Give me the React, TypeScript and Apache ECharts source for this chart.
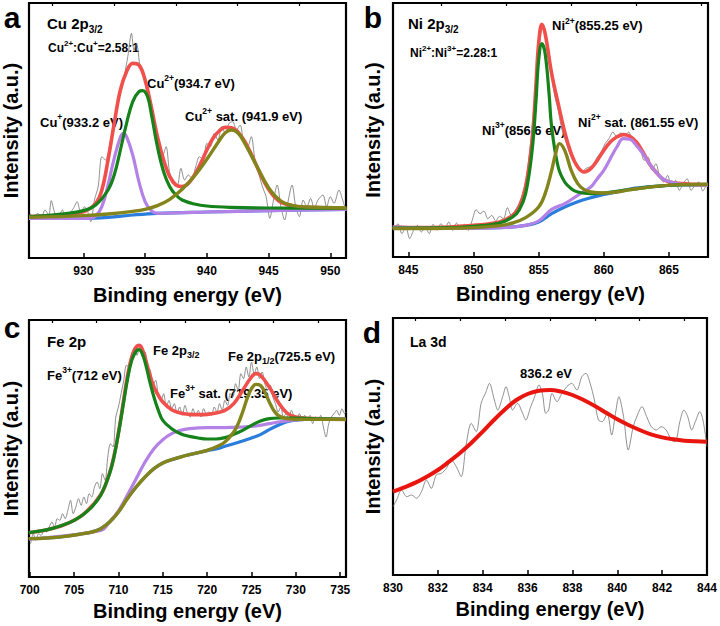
import React, { useEffect, useRef } from "react";
import * as echarts from "echarts";

const FONT = '"Liberation Sans", Arial, Helvetica, sans-serif';

// ---------- Panel a : Cu 2p3/2 ----------
const cuTicks = [930, 935, 940, 945, 950];
const cuMinor = [927.5, 932.5, 937.5, 942.5, 947.5];
const cuRaw = [[925.7,13.4],[926.0,11.9],[926.3,13.4],[926.6,12.4],[926.9,14.4],[927.2,12.9],[927.4,17.2],[927.7,13.4],[928.0,12.6],[928.3,14.4],[928.6,11.9],[928.9,13.4],[929.2,14.9],[929.5,16.9],[929.8,13.4],[930.1,15.4],[930.4,13.4],[930.6,10.9],[930.9,17.4],[931.2,21.4],[931.5,30.4],[931.8,29.4],[932.1,33.4],[932.4,39.4],[932.7,44.4],[933.0,50.4],[933.3,54.4],[933.6,60.4],[933.9,67.4],[934.1,62.4],[934.3,64.4],[934.6,57.4],[934.9,54.4],[935.2,48.4],[935.5,44.4],[935.8,39.4],[936.1,34.4],[936.4,30.4],[936.7,33.4],[937.0,25.4],[937.3,23.4],[937.6,21.4],[937.9,26.9],[938.2,23.4],[938.5,24.9],[938.8,23.9],[939.1,27.4],[939.4,30.4],[939.7,29.4],[940.0,34.4],[940.3,33.4],[940.6,37.4],[940.9,35.4],[941.2,39.4],[941.5,37.4],[941.8,40.4],[942.1,40.9],[942.4,38.4],[942.7,39.9],[943.0,34.4],[943.3,33.4],[943.6,36.4],[943.9,29.4],[944.2,25.4],[944.5,21.4],[944.8,18.4],[945.1,11.9],[945.4,17.4],[945.7,21.9],[946.0,15.4],[946.3,11.4],[946.6,17.4],[946.9,21.9],[947.2,15.4],[947.5,12.4],[947.8,17.4],[948.1,15.4],[948.4,17.9],[948.7,14.9],[949.0,17.4],[949.4,18.9],[949.7,15.4],[950.0,18.4],[950.3,16.4],[950.7,20.4],[951.0,17.4],[951.2,14.9]];
const cuEnvelope = [[925.6,12.4],[928,12.9],[930,13.9],[931,16.4],[931.5,20.4],[932,29.4],[932.5,40.4],[933,50.4],[933.5,55.9],[934,58.4],[934.5,57.9],[935,53.4],[935.5,45.4],[936,36.4],[936.5,29.4],[937,24.4],[937.5,21.9],[938,21.4],[938.5,22.4],[939,24.9],[939.5,28.4],[940,32.4],[940.5,35.9],[941,38.1],[941.5,39.2],[942,39.1],[942.5,37.9],[943,35.4],[943.5,31.9],[944,27.9],[944.5,23.9],[945,20.6],[945.5,18.2],[946,16.7],[947,15.6],[948,15.2],[950,15.0],[951.3,14.9]];
const cuTwoPlus = [[925.6,12.4],[928,13.1],[930,14.2],[931,15.9],[932,20.4],[932.5,24.9],[933,32.4],[933.5,40.4],[934,46.9],[934.5,49.9],[934.8,50.2],[935.2,48.4],[935.5,43.4],[936,33.4],[936.5,25.9],[937,21.4],[937.5,18.9],[938,17.4],[939,16.2],[940,15.6],[942,15.2],[945,15.0],[951.3,14.9]];
const cuOnePlus = [[925.6,11.9],[930.5,11.9],[931,12.6],[931.5,15.4],[932,21.9],[932.5,29.9],[933,36.2],[933.25,37.4],[933.5,36.4],[934,30.9],[934.5,22.9],[935,16.9],[935.5,14.2],[936,13.4],[938,13.6],[940,13.8],[945,14.2],[951.3,14.6]];
const cuSat = [[925.6,12.2],[930,12.7],[932,13.2],[934,14.0],[935,14.6],[936,15.7],[937,17.6],[938,20.6],[939,24.6],[940,29.6],[941,35.2],[941.5,37.6],[942,38.4],[942.5,37.6],[943,34.9],[944,27.9],[945,21.1],[946,17.1],[947,15.7],[948,15.3],[951.3,15.0]];
const cuBackground = [[925.6,11.9],[930,11.9],[932,12.2],[934,12.9],[936,13.4],[940,13.8],[945,14.2],[951.3,14.6]];

// ---------- Panel b : Ni 2p3/2 ----------
const niTicks = [845, 850, 855, 860, 865];
const niMinor = [847.5, 852.5, 857.5, 862.5, 867.5];
const niRaw = [[843.9,8],[844.2,10],[844.5,7],[844.8,9],[845.1,5.5],[845.4,8],[845.7,9.5],[846.0,7.5],[846.3,9],[846.6,7],[846.9,9.8],[847.2,8],[847.5,10],[847.8,8.5],[848.1,10.5],[848.4,8],[848.7,10.2],[849.0,8.5],[849.3,9.8],[849.6,8],[849.9,11],[850.2,14.2],[850.5,13],[850.8,13.8],[851.1,11.5],[851.4,12.5],[851.7,10.8],[852.0,12.2],[852.3,11.5],[852.6,14.8],[852.9,12.5],[853.2,14],[853.5,16],[853.8,19.5],[854.1,25],[854.4,35],[854.7,48],[855.0,62],[855.3,68.5],[855.6,65],[855.9,57],[856.2,49],[856.5,44],[856.8,38],[857.1,34.5],[857.4,31],[857.7,28.5],[858.0,27],[858.3,25.5],[858.6,26.5],[858.9,27],[859.2,27.5],[859.5,30],[859.8,31.5],[860.1,34],[860.4,35.5],[860.7,37.5],[861.0,36],[861.3,37.2],[861.6,36.5],[861.9,37.5],[862.2,35],[862.5,34],[862.8,32.5],[863.1,29],[863.4,30],[863.7,26],[864.0,28],[864.3,24],[864.6,22.5],[864.9,24.5],[865.2,21],[865.5,23],[865.8,20],[866.1,22],[866.4,23.5],[866.7,20],[867.0,21.5],[867.3,22.5],[867.6,19.8],[867.9,22]];
const niEnvelope = [[843.8,9.0],[846,8.8],[848,9.0],[850,9.5],[852,10.5],[853,12.5],[853.5,15.0],[854,21.0],[854.5,35.0],[854.8,52],[855.0,64],[855.25,69.8],[855.5,67],[856,55],[856.5,46],[857,37.5],[857.5,31],[858,27],[858.5,25.5],[859,26.5],[859.5,29],[860,32],[860.5,34.5],[861,36],[861.5,36.7],[862,36.2],[862.5,34.5],[863,31.5],[863.5,28],[864,25.5],[864.5,23.5],[865,22.5],[866,22.0],[867,21.8],[868,21.7]];
const niTwoPlus = [[843.8,8.7],[848,8.8],[850,9.2],[852,10.2],[853,12],[853.5,14],[854,19],[854.5,32],[854.8,47],[855,59],[855.25,64],[855.5,61],[855.8,49],[856,39],[856.5,27],[857,22.5],[857.5,20.5],[858,19.5],[859,19],[860,19.2],[862,20.2],[864,21.2],[866,21.7],[868,21.8]];
const niThreePlus = [[843.8,8.5],[848,8.6],[850,8.8],[852,9.4],[853,10.2],[854,11.8],[855,15],[855.5,19],[856,26],[856.3,31],[856.6,34],[857,32],[857.5,26],[858,22],[858.5,20.2],[859,19.5],[860,19.2],[861,19.5],[862,20.2],[864,21.2],[866,21.7],[868,21.8]];
const niSat = [[843.8,9.0],[848,8.6],[850,8.6],[852,8.8],[853,9.0],[854,9.5],[855,10.8],[856,14.3],[857,16],[858,18.5],[859,21],[859.5,23.5],[860,26],[860.5,29.5],[861,33],[861.5,35.5],[862,35.3],[862.5,33.5],[863,31],[863.5,28],[864,25.5],[864.5,23.5],[865,22.7],[866,21.8],[868,21.6]];
const niBackground = [[843.8,8.6],[852,8.8],[854,9.5],[855,10.5],[856,13],[857,15],[858,16.6],[859,17.8],[860,18.8],[861,19.5],[862,20.4],[864,21.2],[866,21.6],[868,21.7]];

// ---------- Panel c : Fe 2p ----------
const feTicks = [700, 705, 710, 715, 720, 725, 730, 735];
const feMinor = [702.5, 707.5, 712.5, 717.5, 722.5, 727.5, 732.5];
const feRaw = [[700.1,10],[700.4,13],[700.7,11],[701.0,13],[701.3,12.5],[701.6,14],[701.9,13.5],[702.2,15],[702.5,16.5],[702.8,15],[703.1,17.5],[703.4,17],[703.7,19],[704.0,17.5],[704.3,20],[704.6,23],[704.9,19],[705.2,21],[705.5,23.5],[705.8,21.5],[706.1,24],[706.4,22],[706.7,25],[707.0,24],[707.3,27],[707.6,28.5],[707.9,26.5],[708.2,31],[708.5,29],[708.8,36],[709.1,40],[709.4,39],[709.7,48],[710.0,51],[710.3,55],[710.6,59],[710.9,63.5],[711.2,63],[711.5,67],[711.8,69],[712.1,66.5],[712.4,69.5],[712.7,66],[713.0,67.5],[713.3,63],[713.6,62],[713.9,57.5],[714.2,59],[714.5,54.5],[714.8,53],[715.1,55],[715.4,51],[715.7,53],[716.0,50.5],[716.3,52],[716.6,49],[716.9,51],[717.2,48.5],[717.5,51.5],[717.8,49],[718.1,48],[718.4,50.5],[718.7,48.5],[719.0,50],[719.3,48],[719.6,50.5],[719.9,49],[720.2,49.5],[720.5,48.5],[720.8,51],[721.1,49.5],[721.4,52],[721.7,50],[722.0,53],[722.3,51.5],[722.6,55],[722.9,54],[723.2,58],[723.5,56],[723.8,61],[724.1,59.5],[724.4,63],[724.7,60],[725.0,64.5],[725.3,61],[725.6,63],[725.9,59.5],[726.2,61.5],[726.5,58],[726.8,56],[727.1,57.5],[727.4,54],[727.7,52],[728.0,49.5],[728.3,51],[728.6,48],[728.9,49],[729.2,47.5],[729.5,50],[729.8,48],[730.1,46.5],[730.4,49],[730.7,47.5],[731.0,48.5],[731.3,47],[731.6,48.5],[731.9,46],[732.2,48],[732.5,47],[732.8,48.5],[733.1,45],[733.4,42],[733.7,46],[734.0,48],[734.3,49],[734.6,50],[734.9,48.5],[735.2,50.5],[735.5,49],[735.65,49.5]];
const feEnvelope = [[699.9,13.3],[702,14.2],[704,15.8],[706,18.7],[708,24.7],[709,31.2],[709.5,36.3],[710,43.3],[710.5,51.5],[711,60],[711.5,66],[712,69],[712.3,69.5],[712.6,68.8],[713,65.8],[713.5,61],[714,57],[714.5,54.5],[715,52.5],[716,50.2],[717,49.2],[718,48.8],[719,48.7],[720,48.8],[721,49.2],[722,50],[723,52],[724,56],[725,60],[725.5,61],[726,60.5],[727,57],[728,52.5],[729,49.2],[730,48],[732,47.5],[735.65,47.3]];
const feThreePlus = [[699.9,13.3],[702,14.2],[704,15.8],[705,17],[706,18.7],[707,21],[708,24.5],[709,31],[709.5,36],[710,43],[710.5,51],[711,59],[711.5,65],[712,67.8],[712.3,68.2],[712.6,67.5],[713,64.5],[713.5,59],[714,54],[714.5,50],[715,47],[716,44.5],[717,43],[718,42.2],[719,41.7],[720,41.4],[721,41.4],[722,41.8],[723,42.8],[724,44],[725,45.5],[726,46.8],[727,47.5],[728,47.7],[730,47.7],[732,47.5],[735.65,47.3]];
const feTwoP12 = [[699.9,11.5],[702,11.7],[704,12.2],[706,13],[707,13.5],[708,14.5],[709,16.5],[710,19.5],[711,23.5],[712,27],[713,30],[714,32.5],[715,34.2],[716,35.2],[717,36],[718,36.7],[719,37.3],[720,38],[721,39],[722,40.5],[723,43.5],[723.5,46],[724,49.5],[724.5,53.5],[725,56.5],[725.5,57.8],[726,57.5],[726.5,55.5],[727,52.5],[727.5,50],[728,48.5],[729,47.5],[730,47.3],[735.65,47.3]];
const feSat = [[699.9,11.4],[708,14],[709,16.5],[710,19.8],[711,24.5],[712,29.5],[713,34.5],[714,38.5],[715,41.2],[716,43],[717,44],[718,44.5],[720,44.8],[722,44.8],[724,45],[725.5,45.3],[727,46],[728,46.5],[729.5,47],[731,47.3],[735.65,47.3]];
const feBackground = [[699.9,11.5],[702,11.7],[704,12.2],[706,13],[707,13.5],[708,14.5],[709,16.5],[710,19.5],[711,23.5],[712,27],[713,30],[714,32.5],[715,34.2],[716,35.2],[717,36],[718,36.7],[719,37.3],[720,37.9],[721,38.4],[722,39.2],[723,40],[724,40.8],[725,41.7],[726,42.7],[727,44.2],[728,45.5],[729,46.6],[730,47.1],[731,47.3],[735.65,47.3]];

// ---------- Panel d : La 3d ----------
const laTicks = [830, 832, 834, 836, 838, 840, 842, 844];
const laMinor = [831, 833, 835, 837, 839, 841, 843];
const laRaw = [[830.0,20.5],[830.16,22.5],[830.38,25.5],[830.61,23.5],[830.83,24],[831.05,23],[831.27,25],[831.49,28.5],[831.71,26],[831.93,30],[832.16,30.5],[832.38,32],[832.6,34.5],[832.82,32.5],[833.04,29.5],[833.26,39],[833.49,45.5],[833.71,43],[833.93,51.5],[834.15,55],[834.3,57.5],[834.52,52.5],[834.67,49.5],[834.89,53.5],[835.04,56.5],[835.18,53.5],[835.33,49.5],[835.55,51.5],[835.78,48.5],[835.92,46.5],[836.14,50.5],[836.29,53],[836.51,57],[836.66,54.5],[836.81,48.5],[836.94,49.5],[837.09,54.5],[837.31,52],[837.53,54.5],[837.75,56.5],[837.97,57.5],[838.2,55.5],[838.42,59.5],[838.6,60.5],[838.79,57.5],[838.98,52.5],[839.16,46.5],[839.33,46],[839.55,48.5],[839.75,42],[839.92,48.5],[840.07,53.5],[840.28,47.5],[840.49,37.5],[840.71,44.5],[840.9,48],[841.1,50.5],[841.31,47.5],[841.52,44.5],[841.74,43.5],[841.96,44.5],[842.18,43.5],[842.41,40.5],[842.58,40],[842.79,46],[842.97,49.5],[843.14,47.5],[843.32,43.5],[843.48,46],[843.68,49],[843.82,46.5],[844.0,38.5]];
const laFit = [[830,25],[830.5,26.3],[831,27.7],[831.5,29.5],[832,31.5],[832.5,34],[833,36.7],[833.5,39.7],[834,43],[834.5,46.5],[835,49.7],[835.5,52.5],[836,54.3],[836.5,55.3],[837,55.5],[837.5,55],[838,54],[838.5,52.5],[839,50.7],[839.5,48.7],[840,46.7],[840.5,45],[841,43.5],[841.5,42.2],[842,41.3],[842.5,40.7],[843,40.3],[843.5,40.1],[844,40]];

const C_RAW = "#737373";
const C_RED = "#f0504c";
const C_GREEN = "#15821a";
const C_PURPLE = "#b482e6";
const C_OLIVE = "#84841c";
const C_BLUE = "#2a7ddc";
const C_RED_D = "#e8160e";

const RICH: any = {
  t: { fontSize: 15, fontWeight: "bold", fontFamily: FONT, lineHeight: 18, fill: "#000" },
  ts: { fontSize: 10, fontWeight: "bold", fontFamily: FONT, lineHeight: 10, padding: [12, 0, 0, 0], fill: "#000" },
  l: { fontSize: 14, fontWeight: "bold", fontFamily: FONT, lineHeight: 18, fill: "#000" },
  m: { fontSize: 13, fontWeight: "bold", fontFamily: FONT, lineHeight: 16, fill: "#000" },
  p: { fontSize: 8.5, fontWeight: "bold", fontFamily: FONT, lineHeight: 8, padding: [0, 0, 10, 0], fill: "#000" },
  b: { fontSize: 9, fontWeight: "bold", fontFamily: FONT, lineHeight: 9, padding: [8, 0, 0, 0], fill: "#000" },
  r: { fontSize: 12, fontWeight: "bold", fontFamily: FONT, lineHeight: 15, fill: "#000" },
  rp: { fontSize: 8, fontWeight: "bold", fontFamily: FONT, lineHeight: 8, padding: [0, 0, 9, 0], fill: "#000" },
};

function txt(x: number, y: number, text: string) {
  return {
    type: "text",
    x,
    y,
    silent: true,
    style: {
      text,
      rich: RICH,
      fontFamily: FONT,
      fontWeight: "bold",
      fontSize: 13,
      fill: "#000",
      textAlign: "left",
      align: "left",
      textVerticalAlign: "middle",
      verticalAlign: "middle",
    },
  };
}

function letter(x: number, y: number, text: string) {
  return {
    type: "text",
    x,
    y,
    silent: true,
    style: {
      text,
      fontFamily: FONT,
      fontWeight: "bold",
      fontSize: 30,
      fill: "#000",
      textAlign: "center",
      align: "center",
      textVerticalAlign: "middle",
      verticalAlign: "middle",
    },
  };
}

function xAxes(grid: number, min: number, max: number, ticks: number[], minor: number[], gap: number) {
  return [
    {
      type: "value",
      gridIndex: grid,
      min,
      max,
      name: "Binding energy (eV)",
      nameLocation: "middle",
      nameGap: gap,
      nameTextStyle: { fontFamily: FONT, fontWeight: "bold", fontSize: 20, color: "#000" },
      axisLine: { show: false },
      splitLine: { show: false },
      axisTick: { show: true, inside: true, length: 5, customValues: ticks, lineStyle: { color: "#000", width: 1.5 } },
      axisLabel: { show: true, customValues: ticks, margin: 7, fontFamily: FONT, fontWeight: "bold", fontSize: 12, color: "#000", showMinLabel: true, showMaxLabel: true },
    },
    {
      type: "value",
      gridIndex: grid,
      min,
      max,
      axisLine: { show: false },
      splitLine: { show: false },
      axisTick: { show: true, inside: true, length: 3, customValues: minor, lineStyle: { color: "#000", width: 1.2 } },
      axisLabel: { show: false },
    },
  ];
}

function yAxis(grid: number, max: number, gap: number) {
  return {
    type: "value",
    gridIndex: grid,
    min: 0,
    max,
    name: "Intensity (a.u.)",
    nameLocation: "middle",
    nameGap: gap,
    nameTextStyle: { fontFamily: FONT, fontWeight: "bold", fontSize: 20, color: "#000" },
    axisLine: { show: false },
    axisTick: { show: false },
    axisLabel: { show: false },
    splitLine: { show: false },
  };
}

function line(data: number[][], panel: number, color: string, width: number, z: number, smooth: number) {
  return {
    type: "line",
    xAxisIndex: panel * 2,
    yAxisIndex: panel,
    data,
    symbol: "none",
    showSymbol: false,
    smooth,
    silent: true,
    z,
    lineStyle: { color, width },
  };
}

export default function App() {
  const ref = useRef<HTMLDivElement>(null);
  useEffect(() => {
    document.body.style.margin = "0";
    if (!ref.current) return;
    const chart = echarts.init(ref.current, null, { renderer: "svg" });
    const gridStyle = { show: true, borderColor: "#000", borderWidth: 2.2, backgroundColor: "transparent" };
    const option: any = {
      animation: false,
      grid: [
        { left: 29, top: 3, width: 317, height: 255, ...gridStyle },
        { left: 393, top: 3, width: 315, height: 254, ...gridStyle },
        { left: 29, top: 320, width: 317, height: 257, ...gridStyle },
        { left: 393, top: 318, width: 316, height: 257, ...gridStyle },
      ],
      xAxis: [
        ...xAxes(0, 925.6, 951.27, cuTicks, cuMinor, 27),
        ...xAxes(1, 843.82, 868.0, niTicks, niMinor, 27),
        ...xAxes(2, 699.92, 735.65, feTicks, feMinor, 24),
        ...xAxes(3, 830, 844, laTicks, laMinor, 24),
      ],
      yAxis: [yAxis(0, 76.5, 8), yAxis(1, 76.2, 10), yAxis(2, 77.1, 8), yAxis(3, 77.1, 10)],
      series: [
        line(cuRaw, 0, C_RAW, 0.8, 1, 0.3),
        line(cuBackground, 0, C_BLUE, 3.2, 2, 0.4),
        line(cuEnvelope, 0, C_RED, 3.6, 3, 0.4),
        line(cuOnePlus, 0, C_PURPLE, 3.2, 4, 0.4),
        line(cuTwoPlus, 0, C_GREEN, 3.2, 5, 0.4),
        line(cuSat, 0, C_OLIVE, 3.4, 6, 0.4),

        line(niRaw, 1, C_RAW, 0.8, 1, 0.3),
        line(niBackground, 1, C_BLUE, 3.2, 2, 0.4),
        line(niEnvelope, 1, C_RED, 3.6, 3, 0.4),
        line(niSat, 1, C_PURPLE, 3.2, 4, 0.4),
        line(niTwoPlus, 1, C_GREEN, 3.2, 5, 0.4),
        line(niThreePlus, 1, C_OLIVE, 3.4, 6, 0.4),

        line(feRaw, 2, C_RAW, 0.8, 1, 0.3),
        line(feBackground, 2, C_BLUE, 3.2, 2, 0.4),
        line(feEnvelope, 2, C_RED, 3.6, 3, 0.4),
        line(feSat, 2, C_PURPLE, 3.2, 4, 0.4),
        line(feThreePlus, 2, C_GREEN, 3.2, 5, 0.4),
        line(feTwoP12, 2, C_OLIVE, 3.4, 6, 0.4),

        line(laRaw, 3, C_RAW, 0.8, 1, 0.3),
        line(laFit, 3, C_RED_D, 4, 3, 0.4),
      ],
      graphic: [
        letter(12, 17.5, "a"),
        letter(373, 17.5, "b"),
        letter(12, 327, "c"),
        letter(372, 332, "d"),

        txt(47, 23, "{t|Cu 2p}{ts|3/2}"),
        txt(48, 48, "{r|Cu}{rp|2+}{r|:Cu}{rp|+}{r|=2.58:1}"),
        txt(147, 83, "{m|Cu}{p|2+}{m|(934.7 eV)}"),
        txt(40, 122, "{m|Cu}{p|+}{m|(933.2 eV)}"),
        txt(185, 116, "{m|Cu}{p|2+}{m| sat. (941.9 eV)}"),

        txt(408, 23, "{t|Ni 2p}{ts|3/2}"),
        txt(410, 53, "{r|Ni}{rp|2+}{r|:Ni}{rp|3+}{r|=2.28:1}"),
        txt(552, 25.5, "{m|Ni}{p|2+}{m|(855.25 eV)}"),
        txt(482, 130, "{m|Ni}{p|3+}{m|(856.6 eV)}"),
        txt(578, 122, "{m|Ni}{p|2+}{m| sat. (861.55 eV)}"),

        txt(47, 341.7, "{t|Fe 2p}"),
        txt(153, 350.5, "{m|Fe 2p}{b|3/2}"),
        txt(228, 356.7, "{m|Fe 2p}{b|1/2}{m|(725.5 eV)}"),
        txt(47, 375, "{m|Fe}{p|3+}{m|(712 eV)}"),
        txt(170, 393, "{m|Fe}{p|3+}{m| sat. (719.35 eV)}"),

        txt(410, 341.7, "{l|La 3d}"),
        txt(520, 373, "{m|836.2 eV}"),
      ],
    };
    chart.setOption(option);
    return () => chart.dispose();
  }, []);
  return <div ref={ref} style={{ width: 720, height: 626 }} />;
}
